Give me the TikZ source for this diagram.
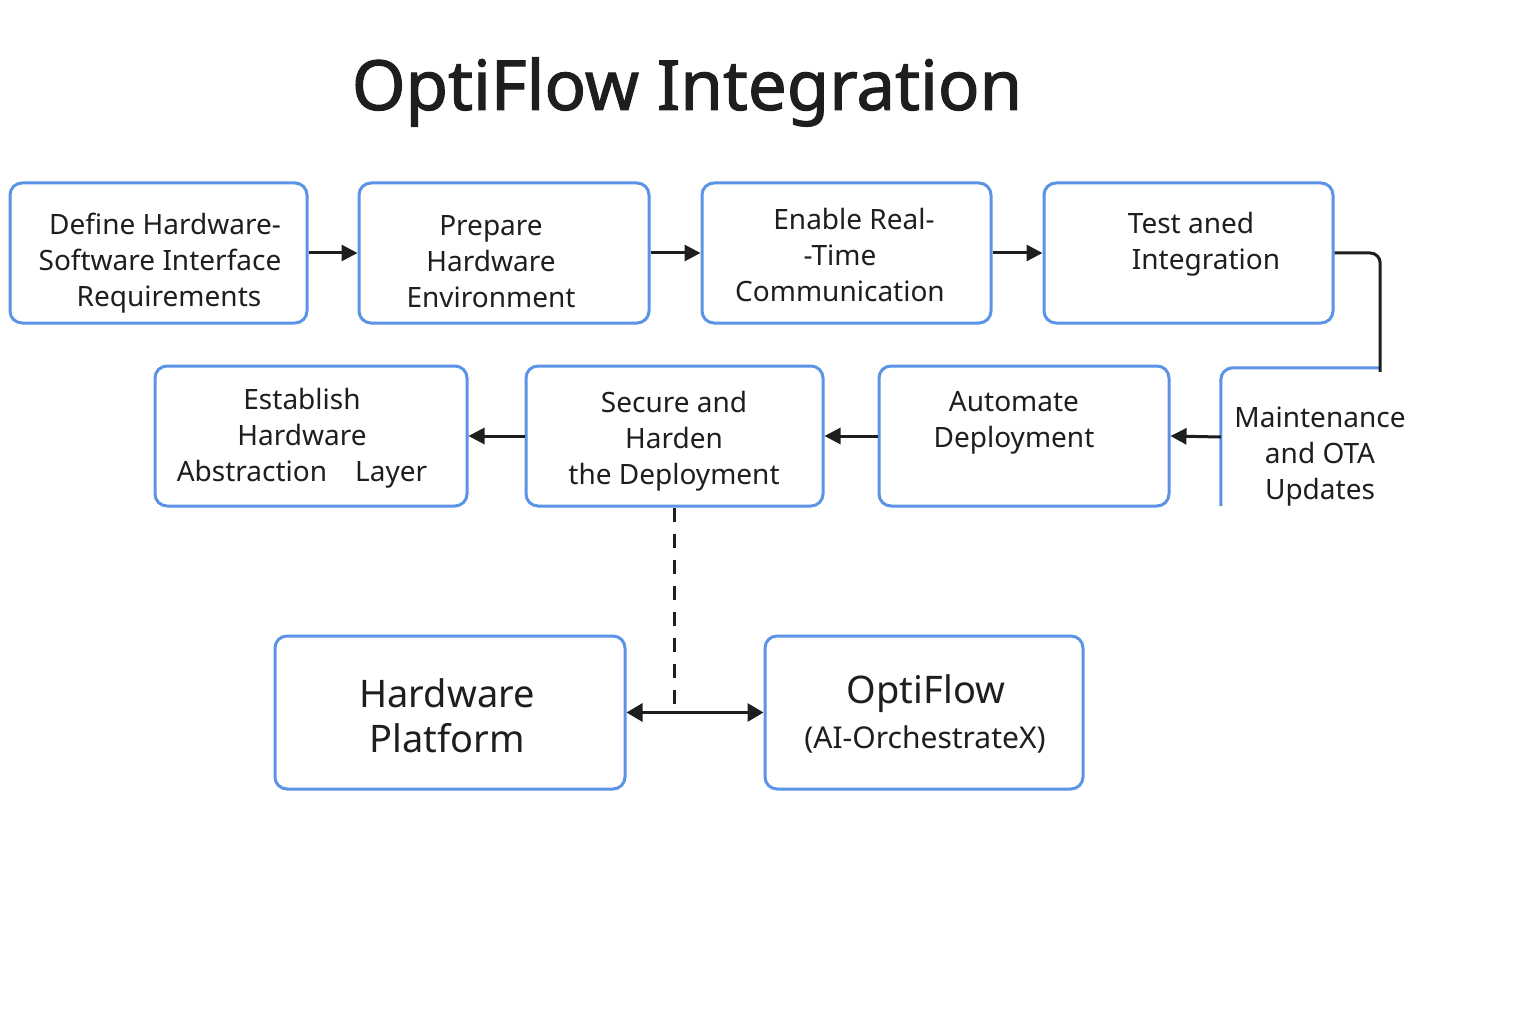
\documentclass[tikz,border=0pt]{standalone}
\usepackage{fontspec}
\setmainfont{Noto Sans}
\newfontfamily\titlefont[FakeBold=1.6]{Noto Sans}
\usetikzlibrary{arrows.meta,calc}
\definecolor{boxblue}{HTML}{5B93E6}
\definecolor{ink}{HTML}{1E1E1E}
\begin{document}
\begin{tikzpicture}[x=1pt,y=-1pt,
  box/.style={draw=boxblue,line width=3pt,rounded corners=12pt,fill=white,inner sep=0pt},
  lbl/.style={align=center,font=\fontsize{28}{36}\selectfont,text=ink,inner sep=0pt},
  big/.style={align=center,font=\fontsize{38}{45}\selectfont,text=ink,inner sep=0pt},
  conn/.style={draw=ink,line width=3pt,-{Triangle[length=16pt,width=16pt]}},
  ]
\useasboundingbox[fill=white] (0,0) rectangle (1536,1024);
\node[font=\titlefont\fontsize{69}{80}\selectfont,text=ink,inner sep=0pt] (title) at (687,92) {OptiFlow Integration};
% row 1
\node[box,minimum width=297pt,minimum height=140pt] (def) at (158.5,253) {};
\node[box,minimum width=290pt,minimum height=140pt] (prep) at (504,253) {};
\node[box,minimum width=289pt,minimum height=140pt] (enab) at (846.5,253) {};
\node[box,minimum width=289pt,minimum height=140pt] (test) at (1188.5,253) {};
% row 2
\node[box,minimum width=312pt,minimum height=140pt] (est) at (311,436) {};
\node[box,minimum width=297pt,minimum height=140pt] (sec) at (674.5,436) {};
\node[box,minimum width=290pt,minimum height=140pt] (auto) at (1024,436) {};
\node[inner sep=0pt,minimum width=159pt,minimum height=138pt] (mnt) at (1300.5,437) {};
\draw[draw=boxblue,line width=3pt,rounded corners=12pt] (mnt.south west) -- (mnt.north west) -- (mnt.north east);
% bottom
\node[box,minimum width=350pt,minimum height=153pt] (hw) at (450,712.5) {};
\node[box,minimum width=318pt,minimum height=153pt] (of) at (924,712.5) {};
% labels
\node[lbl] (tdef) at (160,263) {\hspace*{10pt}Define Hardware-\\Software Interface\\\hspace*{18pt}Requirements};
\node[lbl] (tprep) at (491,262) {Prepare\\Hardware\\Environment};
\node[lbl] (tenab) at (840,255) {\quad Enable Real-\\-Time\\Communication};
\node[lbl] (ttest) at (1206,244) {Test aned\hspace*{30pt}\\Integration};
\node[lbl] (test2) at (302,438) {Establish\\Hardware\\Abstraction\quad Layer};
\node[lbl] (tsec) at (674,441) {Secure and\\Harden\\the Deployment};
\node[lbl] (tauto) at (1014,423) {Automate\\Deployment};
\node[lbl] (tmnt) at (1320,457) {Maintenance\\and OTA\\Updates};
\node[big] (thw) at (447,716) {Hardware\\Platform};
\node[big] (tof) at (926,694) {OptiFlow};
\node[lbl,font=\fontsize{30}{36}\selectfont] (tof2) at (925,739) {(AI-OrchestrateX)};
% connectors
\draw[conn] (def.east) -- (prep.west);
\draw[conn] (prep.east) -- (enab.west);
\draw[conn] (enab.east) -- (test.west);
\draw[draw=ink,line width=3pt,rounded corners=10pt] (test.east) -| ($(mnt.north east)+(0,4)$);
\draw[conn] (mnt.west) -- (auto.east);
\draw[conn] (auto.west) -- (sec.east);
\draw[conn] (sec.west) -- (est.east);
\coordinate (junc) at (sec.south |- hw.east);
\draw[draw=ink,line width=2.5pt,dash pattern=on 14pt off 12pt] (sec.south) -- (junc);
\draw[draw=ink,line width=3pt,{Triangle[length=16pt,width=18pt]}-{Triangle[length=16pt,width=18pt]}] (hw.east) -- (of.west);
\end{tikzpicture}
\end{document}
